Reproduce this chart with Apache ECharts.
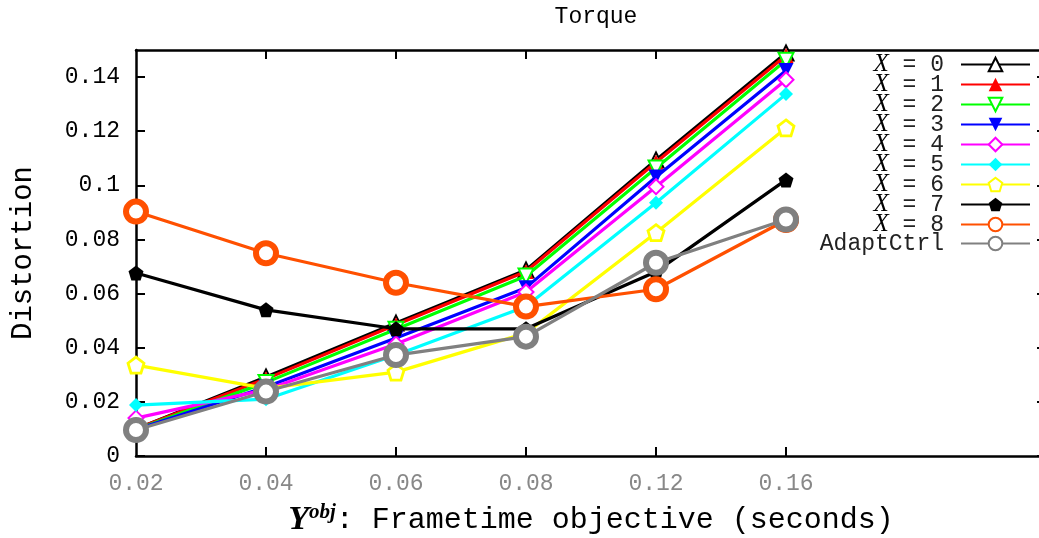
<!DOCTYPE html>
<html>
<head>
<meta charset="utf-8">
<script src="https://cdn.jsdelivr.net/npm/echarts@6/dist/echarts.min.js"></script>
<style>
html,body{margin:0;padding:0;background:#fff;}
#chart{width:1039px;height:538px;}
</style>
</head>
<body>
<div id="chart"></div>
<script>
// ---- data ----
const xLabels = ['0.02', '0.04', '0.06', '0.08', '0.12', '0.16'];
const yTicks = [0, 0.02, 0.04, 0.06, 0.08, 0.1, 0.12, 0.14];
const yTickLabels = ['0', '0.02', '0.04', '0.06', '0.08', '0.1', '0.12', '0.14'];
const seriesNames = ['X = 0', 'X = 1', 'X = 2', 'X = 3', 'X = 4', 'X = 5', 'X = 6', 'X = 7', 'X = 8', 'AdaptCtrl'];
const x0 = [0.0100, 0.0292, 0.0491, 0.0687, 0.1094, 0.1489];
const x1 = [0.0100, 0.0285, 0.0485, 0.0682, 0.1085, 0.1480];
const x2 = [0.0098, 0.0272, 0.0468, 0.0665, 0.1064, 0.1462];
const x3 = [0.0098, 0.0255, 0.0436, 0.0622, 0.1031, 0.1424];
const x4 = [0.0140, 0.0245, 0.0414, 0.0606, 0.0995, 0.1390];
const x5 = [0.0188, 0.0210, 0.0373, 0.0552, 0.0936, 0.1337];
const x6 = [0.0336, 0.0250, 0.0310, 0.0454, 0.0825, 0.1212];
const x7 = [0.0676, 0.0540, 0.0470, 0.0470, 0.0681, 0.1020];
const x8 = [0.0903, 0.0749, 0.0640, 0.0552, 0.0616, 0.0872];
const adaptCtrl = [0.0096, 0.0238, 0.0373, 0.0441, 0.0714, 0.0874];
const allValues = [x0, x1, x2, x3, x4, x5, x6, x7, x8, adaptCtrl];

// ---- styles ----
const MONO = '"Liberation Mono", "DejaVu Sans Mono", monospace';
const SERIF = '"Liberation Serif", "DejaVu Serif", serif';
const PENTA = 'path://M0,-1 L0.951,-0.309 L0.588,0.809 L-0.588,0.809 L-0.951,-0.309 Z';
const styles = [
  {color: '#000000', symbol: 'emptyTriangle', size: 15, rotate: 0},
  {color: '#ff0000', symbol: 'triangle', size: 15, rotate: 0},
  {color: '#00ff00', symbol: 'emptyTriangle', size: 15, rotate: 180},
  {color: '#0000ff', symbol: 'triangle', size: 15, rotate: 180},
  {color: '#ff00ff', symbol: 'emptyDiamond', size: 15, rotate: 0},
  {color: '#00ffff', symbol: 'diamond', size: 14, rotate: 0},
  {color: '#ffff00', symbol: PENTA, size: 16, rotate: 0, hollow: true},
  {color: '#000000', symbol: PENTA, size: 15, rotate: 0},
  {color: '#ff5000', symbol: 'circle', size: 20, rotate: 0, ring: true},
  {color: '#808080', symbol: 'circle', size: 20, rotate: 0, ring: true}
];

const series = seriesNames.map((name, k) => {
  const s = styles[k];
  let itemStyle;
  if (s.hollow || s.ring) {
    itemStyle = {color: '#ffffff', borderColor: s.color, borderWidth: s.ring ? 6 : 2.8};
  } else if (s.symbol.indexOf('empty') === 0) {
    itemStyle = {color: s.color, borderColor: s.color, borderWidth: 2.8};
  } else {
    itemStyle = {color: s.color, borderWidth: 0};
  }
  return {
    name: name,
    type: 'line',
    data: allValues[k].map((v, i) => [i, v]),
    symbol: s.symbol,
    symbolSize: s.size,
    symbolRotate: s.rotate,
    showAllSymbol: true,
    lineStyle: {color: s.color, width: 3.2},
    itemStyle: itemStyle,
    animation: false,
    z: 2 + k
  };
});

const chart = echarts.init(document.getElementById('chart'), null, {renderer: 'canvas'});
const axisLineStyle = {color: '#000', width: 2.5};
const tickStyle = {color: '#000', width: 2};
const option = {
  backgroundColor: '#ffffff',
  animation: false,
  title: {
    text: 'Torque',
    left: 591,
    textAlign: 'center',
    top: 0,
    textStyle: {fontFamily: MONO, fontSize: 23, fontWeight: 'normal', color: '#000'}
  },
  grid: {left: 136, right: -7, top: 50, bottom: 82, containLabel: false, outerBoundsMode: 'none'},
  legend: {
    orient: 'vertical',
    right: 8,
    top: 52,
    padding: 0,
    align: 'right',
    itemWidth: 69,
    itemHeight: 17,
    itemGap: -5,
    data: seriesNames,
    textStyle: {
      fontFamily: MONO, fontSize: 23, color: '#222', lineHeight: 17, padding: [0, 12, 0, 0],
      rich: {i: {fontFamily: SERIF, fontStyle: 'italic', fontSize: 25, color: '#000', lineHeight: 17}}
    },
    formatter: function (n) { return n.indexOf('X') === 0 ? '{i|X}' + n.slice(1) : n; }
  },
  xAxis: [
    {
      type: 'value', position: 'bottom', min: 0, max: 7,
      axisLine: {show: true, onZero: false, lineStyle: axisLineStyle},
      axisTick: {show: true, inside: true, length: 9, lineStyle: tickStyle, customValues: [1, 2, 3, 4, 5]},
      axisLabel: {
        show: true, margin: 16, customValues: [0, 1, 2, 3, 4, 5],
        formatter: v => xLabels[Math.round(v)] || '',
        fontFamily: MONO, fontSize: 23, color: '#888'
      },
      splitLine: {show: false},
      name: '{Y|Y}{s|obj}{t|: Frametime objective (seconds)}',
      nameLocation: 'middle',
      nameGap: 46,
      nameTextStyle: {
        rich: {
          Y: {fontFamily: SERIF, fontStyle: 'italic', fontWeight: 'bold', fontSize: 34, color: '#000', lineHeight: 36},
          s: {fontFamily: SERIF, fontStyle: 'italic', fontWeight: 'bold', fontSize: 21, color: '#000', verticalAlign: 'top', lineHeight: 22},
          t: {fontFamily: MONO, fontSize: 30, color: '#000', lineHeight: 36}
        }
      }
    },
    {
      type: 'value', position: 'top', min: 0, max: 7,
      axisLine: {show: true, onZero: false, lineStyle: axisLineStyle},
      axisTick: {show: true, inside: true, length: 9, lineStyle: tickStyle, customValues: [1, 2, 3, 4, 5]},
      axisLabel: {show: false},
      splitLine: {show: false}
    }
  ],
  yAxis: [
    {
      type: 'value', position: 'left', min: 0, max: 0.15,
      axisLine: {show: true, onZero: false, lineStyle: axisLineStyle},
      axisTick: {show: true, inside: true, length: 9, lineStyle: tickStyle, customValues: yTicks},
      axisLabel: {
        show: true, margin: 16, customValues: yTicks,
        formatter: v => { const i = yTicks.findIndex(t => Math.abs(t - v) < 1e-9); return i >= 0 ? yTickLabels[i] : ''; },
        fontFamily: MONO, fontSize: 23, color: '#000'
      },
      splitLine: {show: false},
      name: 'Distortion',
      nameLocation: 'middle',
      nameGap: 98,
      nameTextStyle: {fontFamily: MONO, fontSize: 29, color: '#000'}
    },
    {
      type: 'value', position: 'right', min: 0, max: 0.15,
      axisLine: {show: true, onZero: false, lineStyle: axisLineStyle},
      axisTick: {show: true, inside: true, length: 9, lineStyle: tickStyle, customValues: yTicks},
      axisLabel: {show: false},
      splitLine: {show: false}
    }
  ],
  series: series
};
chart.setOption(option);
</script>
</body>
</html>
